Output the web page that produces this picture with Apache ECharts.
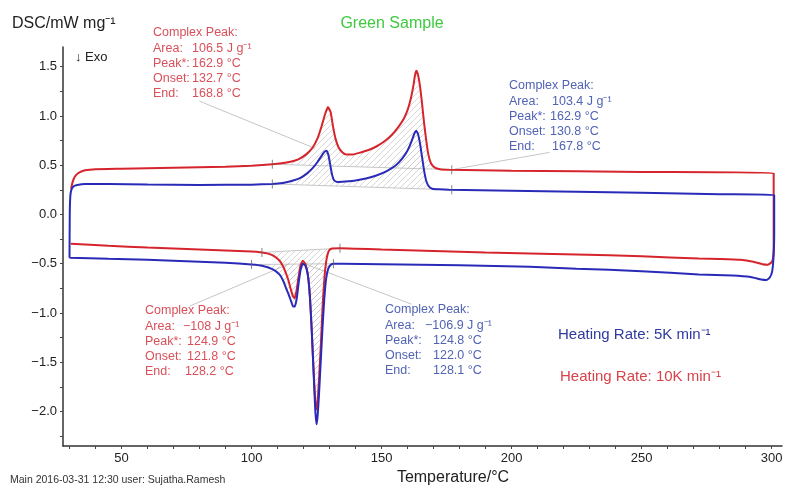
<!DOCTYPE html>
<html>
<head>
<meta charset="utf-8">
<script src="https://cdn.jsdelivr.net/npm/echarts@6/dist/echarts.min.js"></script>
<style>html,body{margin:0;padding:0;background:#fff}#c{width:787px;height:486px}</style>
</head>
<body>
<div id="c"></div>
<script>
// ---- axis ticks / labels ----
const xTicks = [30,40,50,60,70,80,90,100,110,120,130,140,150,160,170,180,190,200,210,220,230,240,250,260,270,280,290,300];
const xLabels = [50,100,150,200,250,300];
const yTicks = [-2.25,-2,-1.75,-1.5,-1.25,-1,-0.75,-0.5,-0.25,0,0.25,0.5,0.75,1,1.25,1.5];
const yLabels = [-2,-1.5,-1,-0.5,0,0.5,1,1.5];

// ---- 10 K/min (red) heating ----
const heat10 = [[30.6,0.26],[31.0,0.31],[31.6,0.36],[32.5,0.40],[34,0.43],[36,0.45],[40,0.46],[50,0.465],[70,0.475],[90,0.485],[100,0.495],[108,0.51],[114,0.53],[118,0.56],[121,0.61],[123.5,0.68],[125.5,0.78],[127,0.90],[128.3,1.02],[129.4,1.09],[130.4,1.04],[131.3,0.90],[132.3,0.77],[133.5,0.68],[135,0.63],[136.5,0.61],[139,0.61],[142,0.63],[145,0.655],[148,0.69],[151,0.74],[154,0.81],[156.5,0.89],[158.5,0.97],[160,1.06],[161.2,1.17],[162.2,1.30],[162.9,1.42],[163.4,1.46],[164.0,1.42],[164.8,1.30],[165.6,1.12],[166.4,0.92],[167.2,0.75],[168,0.61],[169,0.52],[170.5,0.475],[172.5,0.46],[176,0.455],[200,0.445],[250,0.432],[300.8,0.42]];
// ---- 10 K/min (red) cooling ----
const cool10 = [[300.8,-0.35],[300.5,-0.45],[299.8,-0.49],[298.5,-0.51],[296.5,-0.505],[293,-0.48],[288,-0.46],[280,-0.452],[272,-0.447],[250,-0.425],[225,-0.405],[207,-0.395],[190,-0.385],[170,-0.37],[150,-0.355],[140,-0.347],[134,-0.343],[131,-0.345],[130,-0.36],[129.3,-0.40],[128.7,-0.48],[128.1,-0.62],[127.4,-0.90],[126.7,-1.30],[126,-1.65],[125.4,-1.90],[124.9,-1.98],[124.4,-1.85],[123.8,-1.55],[123.1,-1.15],[122.4,-0.82],[121.6,-0.60],[120.7,-0.50],[119.7,-0.47],[118.8,-0.52],[118,-0.65],[117.2,-0.79],[116.5,-0.85],[115.8,-0.82],[115,-0.75],[114.2,-0.67],[113.3,-0.60],[112.2,-0.53],[110.8,-0.47],[108.5,-0.42],[106,-0.395],[104,-0.385],[100,-0.375],[80,-0.355],[60,-0.335],[45,-0.318],[30.5,-0.296]];
// ---- 5 K/min (blue) heating ----
const heat5 = [[30,-0.44],[30.1,0.0],[30.3,0.18],[30.7,0.25],[31.5,0.285],[33,0.30],[36,0.31],[45,0.31],[60,0.305],[80,0.30],[100,0.303],[108,0.31],[112,0.32],[116,0.345],[119,0.375],[121.5,0.42],[123.5,0.47],[125.3,0.53],[126.8,0.59],[128,0.635],[128.8,0.648],[129.6,0.60],[130.3,0.50],[131,0.40],[131.8,0.345],[133,0.33],[136,0.335],[140,0.345],[144,0.365],[148,0.395],[152,0.44],[155.5,0.50],[158,0.57],[160,0.65],[161.5,0.74],[162.6,0.82],[163.3,0.85],[164,0.82],[164.8,0.72],[165.6,0.58],[166.4,0.44],[167.2,0.34],[168.2,0.285],[169.5,0.262],[172,0.255],[176,0.25],[200,0.24],[250,0.22],[280,0.205],[301,0.198]];
// ---- 5 K/min (blue) cooling ----
const cool5 = [[301,-0.2],[300.7,-0.45],[300.2,-0.58],[299.3,-0.64],[298,-0.665],[296,-0.66],[292,-0.635],[285,-0.62],[272,-0.61],[250,-0.575],[225,-0.55],[207,-0.53],[180,-0.515],[150,-0.505],[135,-0.50],[131.5,-0.50],[130.5,-0.51],[129.5,-0.55],[128.7,-0.65],[128,-0.85],[127.3,-1.15],[126.6,-1.50],[125.9,-1.85],[125.4,-2.05],[125.0,-2.13],[124.5,-1.98],[123.9,-1.62],[123.2,-1.20],[122.5,-0.85],[121.7,-0.62],[120.7,-0.52],[119.7,-0.50],[118.9,-0.56],[118.1,-0.70],[117.4,-0.85],[116.6,-0.935],[115.9,-0.93],[115.2,-0.88],[114.4,-0.82],[113.3,-0.75],[112.3,-0.68],[110.8,-0.61],[108,-0.555],[104,-0.52],[100,-0.508],[90,-0.49],[80,-0.48],[60,-0.46],[45,-0.45],[30,-0.44]];

// ---- integration limits (baselines) ----
const baseRedTop = [[108,0.51],[177,0.455]];
const baseBlueTop = [[108,0.31],[177,0.25]];
const baseRedBot = [[104,-0.385],[134,-0.343]];
const baseBlueBot = [[100,-0.508],[131.5,-0.50]];

// ---- leader lines ----
const leadRedTop = [[80,1.15],[124.5,0.67]];
const leadBlueTop = [[214.6,0.63],[178,0.46]];
const leadRedBot = [[76.2,-0.93],[114.6,-0.50]];
const leadBlueBot = [[161.5,-0.91],[120.4,-0.50]];

// ---- annotation texts ----
const annRedTop = [['Complex Peak:',''],['Area:','106.5 J g\u207B\u00B9'],['Peak*:','162.9 \u00B0C'],['Onset:','132.7 \u00B0C'],['End:','168.8 \u00B0C']];
const annBlueTop = [['Complex Peak:',''],['Area:','103.4 J g\u207B\u00B9'],['Peak*:','162.9 \u00B0C'],['Onset:','130.8 \u00B0C'],['End:','167.8 \u00B0C']];
const annRedBot = [['Complex Peak:',''],['Area:','\u2212108 J g\u207B\u00B9'],['Peak*:','124.9 \u00B0C'],['Onset:','121.8 \u00B0C'],['End:','128.2 \u00B0C']];
const annBlueBot = [['Complex Peak:',''],['Area:','\u2212106.9 J g\u207B\u00B9'],['Peak*:','124.8 \u00B0C'],['Onset:','122.0 \u00B0C'],['End:','128.1 \u00B0C']];

const RED = '#d6242c', BLUE = '#2a2ab8';
const FONT = '"Liberation Sans", Arial, Helvetica, sans-serif';

const chart = echarts.init(document.getElementById('c'));

// hatch pattern
const pc = document.createElement('canvas');
pc.width = 6; pc.height = 6;
const g = pc.getContext('2d');
g.strokeStyle = '#c6c6c6'; g.lineWidth = 0.7;
g.beginPath(); g.moveTo(-1,7); g.lineTo(7,-1); g.stroke();
g.beginPath(); g.moveTo(-1,1); g.lineTo(1,-1); g.stroke();
g.beginPath(); g.moveTo(5,7); g.lineTo(7,5); g.stroke();
const hatchFill = {image: pc, repeat: 'repeat'};

const hatches = [
  {curve: heat10, base: baseRedTop},
  {curve: heat5, base: baseBlueTop},
  {curve: cool10, base: baseRedBot},
  {curve: cool5, base: baseBlueBot}
];

function txt(x, y, text, color, size, align) {
  return {type:'text', x: x, y: y, z: 10, style:{text: text, fill: color, fontSize: size, fontFamily: FONT, verticalAlign:'middle', align: align || 'left'}};
}

function annot(x, y, color, lines, offs) {
  const els = [];
  lines.forEach((ln, i) => {
    const yy = y + i * 15.2;
    els.push(txt(x, yy, ln[0], color, 12.5));
    if (ln[1]) els.push(txt(x + offs[i], yy, ln[1], color, 12.5));
  });
  return els;
}

function grayLine(d) {
  return {type:'line', data: d, symbol:'none', silent:true, z:1,
    lineStyle:{color:'#b8b8b8', width:0.8}};
}

const limits = [baseRedTop[0], baseRedTop[1], baseBlueTop[0], baseBlueTop[1], baseRedBot[0], baseRedBot[1], baseBlueBot[0], baseBlueBot[1]];

const option = {
  animation: false,
  grid: {left: 63, right: 5, top: 47, bottom: 40},
  xAxis: {
    type: 'value', min: 27.5, max: 304,
    axisLine: {show: true, onZero: false, lineStyle: {color: '#333', width: 1.5}},
    axisTick: {show: true, customValues: xTicks, length: 3, lineStyle: {color: '#444'}},
    axisLabel: {customValues: xLabels, color: '#222', fontSize: 13, fontFamily: FONT, margin: 6},
    splitLine: {show: false}
  },
  yAxis: {
    type: 'value', min: -2.35, max: 1.70,
    axisLine: {show: true, onZero: false, lineStyle: {color: '#333', width: 1.5}},
    axisTick: {show: true, customValues: yTicks, length: 3, lineStyle: {color: '#444'}},
    axisLabel: {customValues: yLabels, color: '#222', fontSize: 13, fontFamily: FONT, margin: 6,
      formatter: v => v.toFixed(1).replace('-', '\u2212')},
    splitLine: {show: false}
  },
  series: [
    {
      type: 'custom', coordinateSystem: 'cartesian2d', silent: true, z: 0,
      data: hatches.map(h => [h.base[0][0], h.base[0][1]]),
      renderItem: (params, api) => {
        const h = hatches[params.dataIndex];
        const t1 = h.base[0][0], t2 = h.base[1][0];
        const pts = h.curve.filter(p => p[0] > t1 && p[0] < t2).slice().sort((a,b) => a[0]-b[0]);
        const poly = [h.base[0]].concat(pts, [h.base[1]]).map(p => api.coord(p));
        return {type:'polygon', shape:{points: poly}, style:{fill: hatchFill, stroke: null}};
      }
    },
    grayLine(baseRedTop), grayLine(baseBlueTop), grayLine(baseRedBot), grayLine(baseBlueBot),
    grayLine(leadRedTop), grayLine(leadBlueTop), grayLine(leadRedBot), grayLine(leadBlueBot),
    {type:'line', data: heat10.concat(cool10), symbol:'none', smooth: 0.15, z: 3,
      lineStyle:{color: RED, width: 2}},
    {type:'line', data: heat5.concat(cool5), symbol:'none', smooth: 0.15, z: 4,
      lineStyle:{color: BLUE, width: 2}},
    {type:'scatter', data: limits, symbol:'rect', symbolSize:[1, 9], z: 5, silent: true,
      itemStyle:{color:'#666'}}
  ],
  graphic: [
    txt(12, 24, 'DSC/mW mg\u207B\u00B9', '#222', 16),
    txt(392, 24, 'Green Sample', '#3ec93e', 16, 'center'),
    txt(75, 57, '\u2193 Exo', '#222', 13),
    txt(558, 335, 'Heating Rate: 5K min\u207B\u00B9', '#2f3a9e', 15),
    txt(560, 377, 'Heating Rate: 10K min\u207B\u00B9', '#d8434b', 15),
    txt(453, 478, 'Temperature/\u00B0C', '#222', 16, 'center'),
    txt(10, 480, 'Main 2016-03-31 12:30 user: Sujatha.Ramesh', '#333', 10.5)
  ].concat(
    annot(153, 33, '#d9505a', annRedTop, [0, 39, 39, 39, 39]),
    annot(509, 86, '#5163b5', annBlueTop, [0, 43, 41, 41, 43]),
    annot(145, 311, '#d9505a', annRedBot, [0, 38, 42, 42, 40]),
    annot(385, 310, '#5163b5', annBlueBot, [0, 40, 48, 48, 48])
  )
};
chart.setOption(option);
</script>
</body>
</html>
